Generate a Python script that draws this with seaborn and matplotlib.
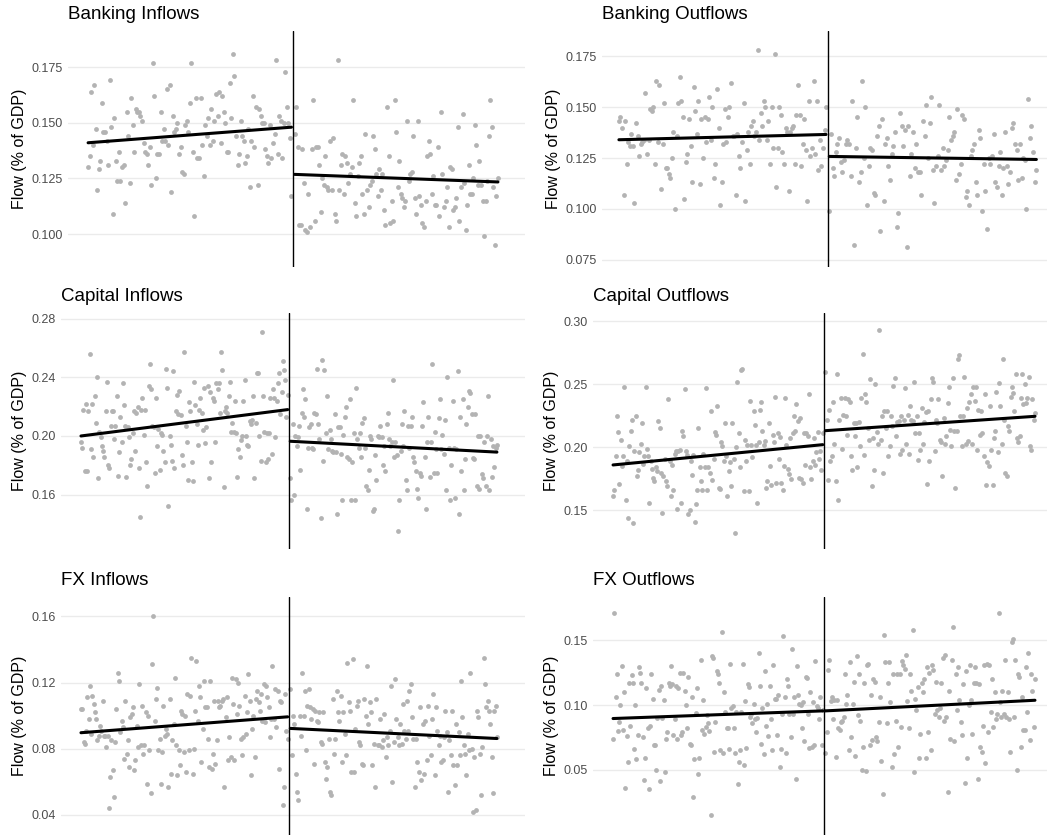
"""
Regression discontinuity panels - capital flows around the cutoff
Six scatter panels with a separate linear fit on each side of the break
"""

import numpy as np
import pandas as pd
import matplotlib
matplotlib.use("Agg")
import matplotlib.pyplot as plt
from matplotlib.ticker import FormatStrFormatter
import seaborn as sns

# ---------------------------------------------------------------------------
# Data (flow, % of GDP), ordered along the running
# variable; "pre" is left of the cutoff, "post" is right of it.
# Fit values are the fitted line at the first / last point of each side.
# ---------------------------------------------------------------------------
BANK_IN_PRE = [
    0.130, 0.135, 0.164, 0.140, 0.167, 0.147, 0.120, 0.129, 0.133, 0.159, 0.146, 0.146, 0.142, 0.131,
    0.169, 0.148, 0.109, 0.152, 0.133, 0.124, 0.137, 0.124, 0.130, 0.131, 0.114, 0.155, 0.144, 0.123,
    0.161, 0.149, 0.137, 0.156, 0.155, 0.155, 0.153, 0.151, 0.141, 0.137, 0.136, 0.131, 0.139, 0.122,
    0.177, 0.162, 0.125, 0.136, 0.136, 0.155, 0.142, 0.147, 0.142, 0.165, 0.140, 0.167, 0.119, 0.153,
    0.146, 0.147, 0.150, 0.136, 0.139, 0.128, 0.127, 0.149, 0.151, 0.146, 0.159, 0.177, 0.137, 0.108,
    0.161, 0.134, 0.134, 0.161, 0.140, 0.126, 0.149, 0.144, 0.152, 0.140, 0.156, 0.142, 0.151, 0.163,
    0.153, 0.164, 0.141, 0.162, 0.155, 0.150, 0.137, 0.137, 0.168, 0.152, 0.181, 0.171, 0.144, 0.131,
    0.136, 0.151, 0.144, 0.142, 0.132, 0.135, 0.147, 0.121, 0.142, 0.162, 0.139, 0.157, 0.122, 0.156,
    0.153, 0.150, 0.150, 0.138, 0.135, 0.132, 0.149, 0.134, 0.141, 0.145, 0.178, 0.136, 0.153, 0.151,
    0.134, 0.150, 0.173, 0.157, 0.150, 0.143, 0.117,
]
BANK_IN_POST = [
    0.145, 0.157, 0.139, 0.104, 0.104, 0.138, 0.123, 0.102, 0.101, 0.118, 0.103, 0.138, 0.160, 0.106,
    0.139, 0.139, 0.131, 0.110, 0.125, 0.122, 0.135, 0.121, 0.120, 0.142, 0.120, 0.143, 0.109, 0.106,
    0.178, 0.120, 0.131, 0.136, 0.118, 0.135, 0.132, 0.123, 0.127, 0.130, 0.160, 0.114, 0.108, 0.126,
    0.132, 0.135, 0.118, 0.109, 0.145, 0.120, 0.112, 0.122, 0.124, 0.144, 0.138, 0.127, 0.117, 0.129,
    0.120, 0.127, 0.111, 0.104, 0.157, 0.135, 0.105, 0.115, 0.106, 0.160, 0.146, 0.121, 0.133, 0.118,
    0.116, 0.112, 0.115, 0.151, 0.124, 0.127, 0.128, 0.144, 0.116, 0.109, 0.151, 0.117, 0.113, 0.105,
    0.103, 0.115, 0.135, 0.142, 0.136, 0.118, 0.126, 0.113, 0.113, 0.139, 0.108, 0.155, 0.127, 0.112,
    0.115, 0.121, 0.103, 0.130, 0.129, 0.111, 0.112, 0.116, 0.148, 0.106, 0.121, 0.154, 0.123, 0.102,
    0.113, 0.131, 0.118, 0.118, 0.125, 0.149, 0.140, 0.122, 0.133, 0.122, 0.115, 0.099, 0.115, 0.124,
    0.144, 0.160, 0.148, 0.121, 0.095, 0.117, 0.125,
]
BANK_IN_FIT = [0.141, 0.148, 0.1268, 0.1234]

BANK_OUT_PRE = [
    0.143, 0.145, 0.140, 0.107, 0.143, 0.122, 0.133, 0.131, 0.137, 0.131, 0.103, 0.142, 0.136, 0.126,
    0.132, 0.133, 0.134, 0.157, 0.127, 0.134, 0.149, 0.148, 0.150, 0.122, 0.163, 0.133, 0.161, 0.110,
    0.132, 0.152, 0.120, 0.120, 0.117, 0.115, 0.125, 0.138, 0.100, 0.136, 0.152, 0.165, 0.153, 0.145,
    0.105, 0.123, 0.127, 0.144, 0.131, 0.113, 0.160, 0.148, 0.137, 0.153, 0.112, 0.144, 0.125, 0.145,
    0.133, 0.144, 0.155, 0.134, 0.150, 0.115, 0.122, 0.159, 0.140, 0.102, 0.113, 0.132, 0.149, 0.133,
    0.145, 0.150, 0.162, 0.136, 0.136, 0.107, 0.137, 0.126, 0.120, 0.133, 0.152, 0.104, 0.129, 0.138,
    0.122, 0.141, 0.143, 0.136, 0.138, 0.178, 0.134, 0.147, 0.141, 0.153, 0.150, 0.134, 0.143, 0.122,
    0.150, 0.130, 0.176, 0.111, 0.130, 0.150, 0.146, 0.128, 0.122, 0.140, 0.138, 0.109, 0.138, 0.140,
    0.141, 0.122, 0.146, 0.161, 0.146, 0.121, 0.132, 0.144, 0.129, 0.104, 0.153, 0.126, 0.130, 0.163,
    0.127, 0.153, 0.119, 0.134, 0.121, 0.130, 0.139, 0.150,
]
BANK_OUT_POST = [
    0.099, 0.137, 0.120, 0.116, 0.128, 0.132, 0.135, 0.123, 0.118, 0.124, 0.132, 0.134, 0.132, 0.116,
    0.153, 0.082, 0.130, 0.145, 0.113, 0.118, 0.163, 0.125, 0.150, 0.102, 0.121, 0.130, 0.129, 0.108,
    0.107, 0.136, 0.141, 0.089, 0.144, 0.104, 0.132, 0.135, 0.121, 0.114, 0.127, 0.131, 0.138, 0.091,
    0.098, 0.147, 0.141, 0.131, 0.139, 0.081, 0.141, 0.116, 0.127, 0.138, 0.120, 0.132, 0.118, 0.118,
    0.107, 0.143, 0.136, 0.151, 0.125, 0.142, 0.155, 0.119, 0.103, 0.121, 0.126, 0.151, 0.119, 0.130,
    0.121, 0.124, 0.129, 0.145, 0.134, 0.136, 0.138, 0.114, 0.149, 0.117, 0.122, 0.146, 0.144, 0.106,
    0.109, 0.102, 0.126, 0.129, 0.132, 0.113, 0.107, 0.139, 0.135, 0.099, 0.122, 0.109, 0.090, 0.125,
    0.122, 0.126, 0.137, 0.113, 0.111, 0.121, 0.128, 0.107, 0.120, 0.138, 0.121, 0.112, 0.118, 0.140,
    0.142, 0.132, 0.129, 0.114, 0.132, 0.115, 0.125, 0.124, 0.100, 0.154, 0.135, 0.141, 0.128, 0.113,
    0.119,
]
BANK_OUT_FIT = [0.134, 0.1366, 0.1258, 0.1243]

CAP_IN_PRE = [
    0.196, 0.192, 0.218, 0.176, 0.222, 0.176, 0.217, 0.256, 0.191, 0.222, 0.186, 0.227, 0.209, 0.240,
    0.171, 0.203, 0.199, 0.193, 0.190, 0.186, 0.217, 0.237, 0.180, 0.178, 0.207, 0.217, 0.217, 0.198,
    0.207, 0.227, 0.173, 0.189, 0.213, 0.196, 0.236, 0.221, 0.207, 0.172, 0.206, 0.199, 0.180, 0.184,
    0.202, 0.217, 0.190, 0.216, 0.220, 0.178, 0.145, 0.218, 0.226, 0.201, 0.218, 0.182, 0.166, 0.234,
    0.249, 0.232, 0.207, 0.206, 0.175, 0.226, 0.193, 0.205, 0.177, 0.202, 0.201, 0.190, 0.182, 0.246,
    0.233, 0.152, 0.200, 0.194, 0.183, 0.244, 0.178, 0.217, 0.228, 0.215, 0.231, 0.214, 0.187, 0.180,
    0.257, 0.207, 0.196, 0.170, 0.223, 0.217, 0.182, 0.169, 0.237, 0.221, 0.208, 0.194, 0.218, 0.226,
    0.216, 0.204, 0.233, 0.195, 0.206, 0.234, 0.171, 0.230, 0.182, 0.226, 0.224, 0.196, 0.236, 0.232,
    0.236, 0.216, 0.257, 0.245, 0.165, 0.217, 0.220, 0.216, 0.227, 0.237, 0.203, 0.209, 0.203, 0.224,
    0.202, 0.172, 0.191, 0.186, 0.197, 0.200, 0.224, 0.238, 0.200, 0.194, 0.193, 0.210, 0.208, 0.211,
    0.227, 0.171, 0.209, 0.243, 0.243, 0.200, 0.183, 0.271, 0.227, 0.203, 0.182, 0.202, 0.184, 0.202,
    0.226, 0.188, 0.232, 0.226, 0.199, 0.224, 0.236, 0.243, 0.215, 0.230, 0.251, 0.245, 0.238, 0.213,
    0.228,
]
CAP_IN_POST = [
    0.171, 0.156, 0.208, 0.160, 0.200, 0.193, 0.199, 0.207, 0.177, 0.216, 0.232, 0.213, 0.225, 0.150,
    0.192, 0.206, 0.208, 0.192, 0.191, 0.216, 0.215, 0.246, 0.208, 0.198, 0.144, 0.252, 0.183, 0.245,
    0.202, 0.227, 0.191, 0.204, 0.198, 0.190, 0.189, 0.215, 0.189, 0.147, 0.206, 0.206, 0.188, 0.156,
    0.201, 0.213, 0.220, 0.186, 0.184, 0.225, 0.156, 0.182, 0.202, 0.156, 0.233, 0.198, 0.192, 0.202,
    0.186, 0.209, 0.212, 0.192, 0.166, 0.163, 0.177, 0.200, 0.198, 0.149, 0.150, 0.187, 0.170, 0.200,
    0.199, 0.207, 0.199, 0.180, 0.193, 0.176, 0.208, 0.216, 0.198, 0.193, 0.196, 0.238, 0.186, 0.196,
    0.187, 0.135, 0.156, 0.190, 0.208, 0.193, 0.217, 0.170, 0.163, 0.207, 0.192, 0.207, 0.213, 0.186,
    0.182, 0.176, 0.164, 0.158, 0.175, 0.173, 0.207, 0.223, 0.186, 0.150, 0.196, 0.213, 0.172, 0.196,
    0.249, 0.175, 0.203, 0.191, 0.175, 0.212, 0.225, 0.191, 0.201, 0.188, 0.211, 0.163, 0.240, 0.192,
    0.156, 0.180, 0.224, 0.192, 0.158, 0.191, 0.244, 0.147, 0.213, 0.176, 0.225, 0.163, 0.184, 0.208,
    0.220, 0.231, 0.229, 0.215, 0.185, 0.184, 0.215, 0.166, 0.200, 0.164, 0.200, 0.174, 0.171, 0.196,
    0.166, 0.200, 0.227, 0.163, 0.198, 0.172, 0.193, 0.179, 0.192, 0.194,
]
CAP_IN_FIT = [0.200, 0.218, 0.1964, 0.189]

CAP_OUT_PRE = [
    0.161, 0.166, 0.193, 0.225, 0.212, 0.171, 0.206, 0.185, 0.193, 0.248, 0.158, 0.189, 0.144, 0.201,
    0.213, 0.222, 0.140, 0.197, 0.225, 0.177, 0.182, 0.196, 0.203, 0.219, 0.187, 0.193, 0.248, 0.199,
    0.193, 0.156, 0.189, 0.183, 0.176, 0.173, 0.184, 0.181, 0.221, 0.215, 0.180, 0.148, 0.177, 0.191,
    0.173, 0.169, 0.238, 0.189, 0.161, 0.186, 0.166, 0.195, 0.197, 0.151, 0.197, 0.198, 0.156, 0.213,
    0.209, 0.246, 0.197, 0.194, 0.147, 0.150, 0.189, 0.178, 0.194, 0.141, 0.155, 0.166, 0.215, 0.184,
    0.173, 0.166, 0.195, 0.184, 0.247, 0.166, 0.184, 0.180, 0.229, 0.174, 0.191, 0.212, 0.210, 0.233,
    0.168, 0.167, 0.204, 0.201, 0.189, 0.219, 0.193, 0.161, 0.181, 0.188, 0.169, 0.219, 0.191, 0.132,
    0.200, 0.252, 0.211, 0.184, 0.261, 0.262, 0.165, 0.206, 0.189, 0.202, 0.165, 0.237, 0.202, 0.192,
    0.229, 0.218, 0.202, 0.156, 0.204, 0.230, 0.236, 0.213, 0.202, 0.205, 0.168, 0.173, 0.219, 0.185,
    0.170, 0.210, 0.204, 0.240, 0.172, 0.211, 0.191, 0.208, 0.172, 0.166, 0.185, 0.239, 0.202, 0.183,
    0.179, 0.207, 0.175, 0.211, 0.225, 0.213, 0.234, 0.221, 0.176, 0.223, 0.175, 0.172, 0.211, 0.186,
    0.211, 0.209, 0.242, 0.184, 0.175, 0.189, 0.207, 0.186, 0.196, 0.212, 0.191, 0.197, 0.182, 0.211,
]
CAP_OUT_POST = [
    0.260, 0.222, 0.174, 0.230, 0.189, 0.193, 0.236, 0.203, 0.173, 0.258, 0.158, 0.222, 0.239, 0.199,
    0.226, 0.239, 0.225, 0.210, 0.238, 0.236, 0.193, 0.182, 0.219, 0.209, 0.219, 0.184, 0.220, 0.201,
    0.239, 0.274, 0.194, 0.242, 0.236, 0.215, 0.206, 0.254, 0.169, 0.207, 0.182, 0.250, 0.212, 0.203,
    0.293, 0.206, 0.225, 0.180, 0.229, 0.215, 0.229, 0.193, 0.201, 0.225, 0.217, 0.249, 0.255, 0.209,
    0.220, 0.221, 0.195, 0.225, 0.198, 0.222, 0.247, 0.203, 0.226, 0.195, 0.233, 0.222, 0.221, 0.252,
    0.211, 0.225, 0.190, 0.211, 0.198, 0.231, 0.203, 0.220, 0.228, 0.171, 0.229, 0.189, 0.238, 0.255,
    0.252, 0.197, 0.222, 0.219, 0.238, 0.206, 0.204, 0.177, 0.223, 0.203, 0.209, 0.235, 0.248, 0.214,
    0.201, 0.255, 0.213, 0.168, 0.213, 0.270, 0.273, 0.225, 0.201, 0.225, 0.256, 0.203, 0.231, 0.205,
    0.236, 0.242, 0.203, 0.248, 0.237, 0.248, 0.198, 0.230, 0.210, 0.229, 0.211, 0.193, 0.242, 0.170,
    0.188, 0.185, 0.233, 0.198, 0.170, 0.207, 0.213, 0.244, 0.196, 0.251, 0.233, 0.203, 0.270, 0.222,
    0.180, 0.177, 0.217, 0.213, 0.240, 0.248, 0.243, 0.229, 0.258, 0.207, 0.204, 0.209, 0.239, 0.258,
    0.234, 0.250, 0.235, 0.239, 0.256, 0.201, 0.198, 0.238, 0.222, 0.227,
]
CAP_OUT_FIT = [0.186, 0.2021, 0.2132, 0.2246]

FX_IN_PRE = [
    0.104, 0.104, 0.084, 0.083, 0.091, 0.111, 0.098, 0.118, 0.089, 0.112, 0.107, 0.102, 0.098, 0.085,
    0.088, 0.094, 0.091, 0.109, 0.088, 0.088, 0.081, 0.088, 0.044, 0.063, 0.085, 0.067, 0.051, 0.084,
    0.104, 0.126, 0.121, 0.090, 0.097, 0.093, 0.074, 0.109, 0.077, 0.085, 0.069, 0.099, 0.101, 0.105,
    0.067, 0.073, 0.094, 0.081, 0.119, 0.082, 0.106, 0.077, 0.082, 0.102, 0.059, 0.100, 0.079, 0.053,
    0.131, 0.160, 0.097, 0.110, 0.117, 0.079, 0.086, 0.059, 0.078, 0.106, 0.088, 0.092, 0.089, 0.057,
    0.110, 0.065, 0.085, 0.095, 0.123, 0.082, 0.064, 0.079, 0.070, 0.103, 0.101, 0.078, 0.100, 0.066,
    0.113, 0.079, 0.112, 0.135, 0.065, 0.080, 0.103, 0.133, 0.097, 0.118, 0.111, 0.072, 0.092, 0.121,
    0.105, 0.105, 0.086, 0.069, 0.121, 0.068, 0.077, 0.109, 0.071, 0.085, 0.109, 0.105, 0.106, 0.109,
    0.110, 0.057, 0.099, 0.111, 0.073, 0.087, 0.075, 0.123, 0.107, 0.073, 0.122, 0.101, 0.120, 0.106,
    0.086, 0.076, 0.087, 0.112, 0.089, 0.102, 0.125, 0.109, 0.064, 0.092, 0.100, 0.075, 0.110, 0.115,
    0.108, 0.103, 0.113, 0.097, 0.119, 0.096, 0.118, 0.111, 0.105, 0.087, 0.098, 0.130, 0.098, 0.116,
    0.093, 0.115, 0.068, 0.109, 0.108, 0.046, 0.057, 0.113, 0.091, 0.086,
]
FX_IN_POST = [
    0.116, 0.076, 0.100, 0.095, 0.065, 0.054, 0.049, 0.100, 0.088, 0.126, 0.100, 0.115, 0.079, 0.106,
    0.116, 0.105, 0.098, 0.104, 0.071, 0.103, 0.097, 0.096, 0.102, 0.084, 0.083, 0.102, 0.072, 0.062,
    0.069, 0.086, 0.054, 0.052, 0.110, 0.077, 0.086, 0.115, 0.102, 0.097, 0.112, 0.072, 0.102, 0.089,
    0.076, 0.132, 0.108, 0.103, 0.066, 0.134, 0.066, 0.092, 0.106, 0.109, 0.084, 0.082, 0.071, 0.070,
    0.110, 0.100, 0.130, 0.095, 0.108, 0.102, 0.070, 0.083, 0.057, 0.110, 0.082, 0.082, 0.098, 0.081,
    0.085, 0.101, 0.075, 0.087, 0.082, 0.091, 0.118, 0.060, 0.084, 0.122, 0.098, 0.087, 0.082, 0.095,
    0.083, 0.107, 0.091, 0.086, 0.109, 0.091, 0.115, 0.119, 0.099, 0.086, 0.057, 0.086, 0.072, 0.066,
    0.105, 0.061, 0.095, 0.065, 0.097, 0.073, 0.106, 0.088, 0.076, 0.098, 0.113, 0.064, 0.105, 0.091,
    0.082, 0.088, 0.072, 0.073, 0.087, 0.103, 0.090, 0.054, 0.085, 0.076, 0.103, 0.070, 0.058, 0.095,
    0.070, 0.090, 0.076, 0.121, 0.099, 0.082, 0.077, 0.064, 0.089, 0.079, 0.126, 0.080, 0.042, 0.075,
    0.043, 0.103, 0.099, 0.077, 0.052, 0.081, 0.135, 0.119, 0.105, 0.109, 0.103, 0.095, 0.075, 0.053,
    0.103, 0.106, 0.087,
]
FX_IN_FIT = [0.0897, 0.0993, 0.0923, 0.0862]

FX_OUT_PRE = [
    0.074, 0.171, 0.106, 0.124, 0.080, 0.087, 0.100, 0.130, 0.081, 0.110, 0.036, 0.076, 0.056, 0.117,
    0.084, 0.123, 0.117, 0.066, 0.100, 0.058, 0.077, 0.129, 0.125, 0.117, 0.075, 0.042, 0.059, 0.113,
    0.082, 0.035, 0.084, 0.124, 0.105, 0.069, 0.069, 0.050, 0.090, 0.112, 0.041, 0.115, 0.090, 0.104,
    0.048, 0.074, 0.079, 0.117, 0.115, 0.130, 0.116, 0.077, 0.089, 0.115, 0.074, 0.113, 0.125, 0.077,
    0.079, 0.125, 0.111, 0.100, 0.082, 0.122, 0.070, 0.069, 0.106, 0.029, 0.058, 0.094, 0.113, 0.047,
    0.059, 0.135, 0.081, 0.104, 0.078, 0.083, 0.092, 0.086, 0.080, 0.015, 0.138, 0.136, 0.064, 0.087,
    0.126, 0.124, 0.117, 0.065, 0.156, 0.063, 0.110, 0.095, 0.082, 0.082, 0.066, 0.132, 0.098, 0.099,
    0.082, 0.063, 0.095, 0.039, 0.056, 0.065, 0.095, 0.132, 0.054, 0.103, 0.067, 0.116, 0.114, 0.091,
    0.093, 0.086, 0.101, 0.089, 0.079, 0.090, 0.140, 0.115, 0.070, 0.098, 0.062, 0.126, 0.084, 0.101,
    0.076, 0.115, 0.089, 0.065, 0.131, 0.105, 0.105, 0.077, 0.108, 0.052, 0.066, 0.093, 0.153, 0.106,
    0.063, 0.120, 0.115, 0.093, 0.075, 0.143, 0.093, 0.106, 0.043, 0.130, 0.108, 0.101, 0.100, 0.082,
    0.102, 0.072, 0.122, 0.121, 0.093, 0.067, 0.110, 0.068, 0.102, 0.069, 0.134, 0.099, 0.098, 0.089,
    0.106, 0.069, 0.096,
]
FX_OUT_POST = [
    0.063, 0.079, 0.127, 0.135, 0.103, 0.106, 0.089, 0.104, 0.060, 0.104, 0.082, 0.081, 0.087, 0.088,
    0.091, 0.124, 0.101, 0.108, 0.065, 0.133, 0.075, 0.101, 0.118, 0.061, 0.138, 0.092, 0.124, 0.088,
    0.050, 0.068, 0.117, 0.049, 0.131, 0.132, 0.069, 0.108, 0.073, 0.120, 0.118, 0.075, 0.072, 0.087,
    0.106, 0.057, 0.031, 0.154, 0.133, 0.086, 0.117, 0.133, 0.102, 0.052, 0.124, 0.062, 0.088, 0.124,
    0.068, 0.124, 0.083, 0.134, 0.131, 0.128, 0.139, 0.103, 0.082, 0.124, 0.111, 0.158, 0.048, 0.105,
    0.096, 0.114, 0.059, 0.078, 0.117, 0.110, 0.120, 0.059, 0.129, 0.079, 0.125, 0.065, 0.131, 0.127,
    0.093, 0.118, 0.096, 0.091, 0.098, 0.117, 0.136, 0.088, 0.139, 0.091, 0.033, 0.111, 0.074, 0.135,
    0.160, 0.072, 0.124, 0.096, 0.129, 0.104, 0.087, 0.077, 0.116, 0.040, 0.126, 0.059, 0.100, 0.131,
    0.104, 0.078, 0.117, 0.129, 0.117, 0.043, 0.116, 0.068, 0.064, 0.084, 0.131, 0.055, 0.132, 0.079,
    0.131, 0.095, 0.120, 0.083, 0.110, 0.089, 0.093, 0.171, 0.102, 0.091, 0.111, 0.093, 0.135, 0.091,
    0.110, 0.089, 0.064, 0.149, 0.151, 0.091, 0.135, 0.050, 0.124, 0.122, 0.068, 0.106, 0.081, 0.081,
    0.129, 0.095, 0.140, 0.073, 0.124, 0.111, 0.083, 0.120,
]
FX_OUT_FIT = [0.0896, 0.0955, 0.0955, 0.1037]

TITLES = ["Banking Inflows", "Banking Outflows", "Capital Inflows",
          "Capital Outflows", "FX Inflows", "FX Outflows"]
Y_LABEL = "Flow (% of GDP)"

# Layout (figure pixels) and axis settings per panel
FIG_W, FIG_H = 1047, 835
PANEL_LAYOUT = [
    # (x0, x1, y_top, y_bottom), xlim, ylim, ticks, tick format
    ((68, 525, 31, 267), (-1.098, 1.132), (0.0852, 0.1912), [0.100, 0.125, 0.150, 0.175], "%.3f"),
    ((602, 1047, 31, 267), (-1.081, 1.051), (0.0714, 0.1875), [0.075, 0.100, 0.125, 0.150, 0.175], "%.3f"),
    ((61, 525, 313, 549), (-1.096, 1.135), (0.1229, 0.2839), [0.16, 0.20, 0.24, 0.28], "%.2f"),
    ((593, 1047, 313, 549), (-1.095, 1.057), (0.1193, 0.3066), [0.15, 0.20, 0.25, 0.30], "%.2f"),
    ((61, 525, 597, 835), (-1.096, 1.135), (0.0279, 0.1717), [0.04, 0.08, 0.12, 0.16], "%.2f"),
    ((593, 1047, 597, 835), (-1.095, 1.057), (-0.0003, 0.1834), [0.05, 0.10, 0.15], "%.2f"),
]

POINT_COLOR = "#b3b3b3"
GRID_COLOR = "#ebebeb"
TICK_COLOR = "#4d4d4d"


def build_frame(pre, post):
    """Put both sides of the cutoff on a running variable in [-1, 1]."""
    n_pre, n_post = len(pre), len(post)
    x_pre = (np.arange(n_pre) - n_pre) / n_pre
    x_post = (np.arange(n_post) + 1) / n_post
    df = pd.DataFrame({
        "x": np.concatenate([x_pre, x_post]),
        "flow": np.concatenate([pre, post]),
        "side": ["pre"] * n_pre + ["post"] * n_post,
    })
    return df


def draw_panel(ax, title, df, fit, layout):
    """Scatter + piecewise linear fit + cutoff line."""
    _, xlim, ylim, ticks, fmt = layout

    sns.scatterplot(data=df, x="x", y="flow", ax=ax, color=POINT_COLOR,
                    s=12, linewidth=0, edgecolor=None, zorder=2)

    pre = df[df["side"] == "pre"]
    post = df[df["side"] == "post"]
    sns.lineplot(x=[pre["x"].min(), pre["x"].max()], y=fit[:2], ax=ax,
                 color="black", linewidth=2.2, zorder=3)
    sns.lineplot(x=[post["x"].min(), post["x"].max()], y=fit[2:], ax=ax,
                 color="black", linewidth=2.2, zorder=3)
    ax.axvline(0, color="black", linewidth=1.0, zorder=4)

    ax.set_xlim(*xlim)
    ax.set_ylim(*ylim)
    ax.set_yticks(ticks)
    ax.yaxis.set_major_formatter(FormatStrFormatter(fmt))
    ax.set_xticks([])
    ax.set_xlabel("")
    ax.set_ylabel(Y_LABEL, fontsize=11.5, color="black", labelpad=3)
    ax.tick_params(axis="y", length=0, pad=4, labelsize=9, labelcolor=TICK_COLOR)

    ax.grid(False)
    ax.yaxis.grid(True, color=GRID_COLOR, linewidth=1.0)
    ax.set_axisbelow(True)
    for spine in ax.spines.values():
        spine.set_visible(False)

    ax.set_title(title, loc="left", fontsize=13.5, color="black", pad=8.5)


def main():
    sns.set_theme(style="white")
    plt.rcParams["font.family"] = ["Liberation Sans", "DejaVu Sans"]

    panels = [
        (BANK_IN_PRE, BANK_IN_POST, BANK_IN_FIT),
        (BANK_OUT_PRE, BANK_OUT_POST, BANK_OUT_FIT),
        (CAP_IN_PRE, CAP_IN_POST, CAP_IN_FIT),
        (CAP_OUT_PRE, CAP_OUT_POST, CAP_OUT_FIT),
        (FX_IN_PRE, FX_IN_POST, FX_IN_FIT),
        (FX_OUT_PRE, FX_OUT_POST, FX_OUT_FIT),
    ]

    fig = plt.figure(figsize=(FIG_W / 100, FIG_H / 100), dpi=100)
    fig.patch.set_facecolor("white")

    for title, (pre, post, fit), layout in zip(TITLES, panels, PANEL_LAYOUT):
        x0, x1, y_top, y_bot = layout[0]
        rect = [x0 / FIG_W, 1 - y_bot / FIG_H, (x1 - x0) / FIG_W, (y_bot - y_top) / FIG_H]
        ax = fig.add_axes(rect)
        draw_panel(ax, title, build_frame(pre, post), fit, layout)

    fig.savefig("out.png", dpi=100, facecolor="white")


if __name__ == "__main__":
    main()
